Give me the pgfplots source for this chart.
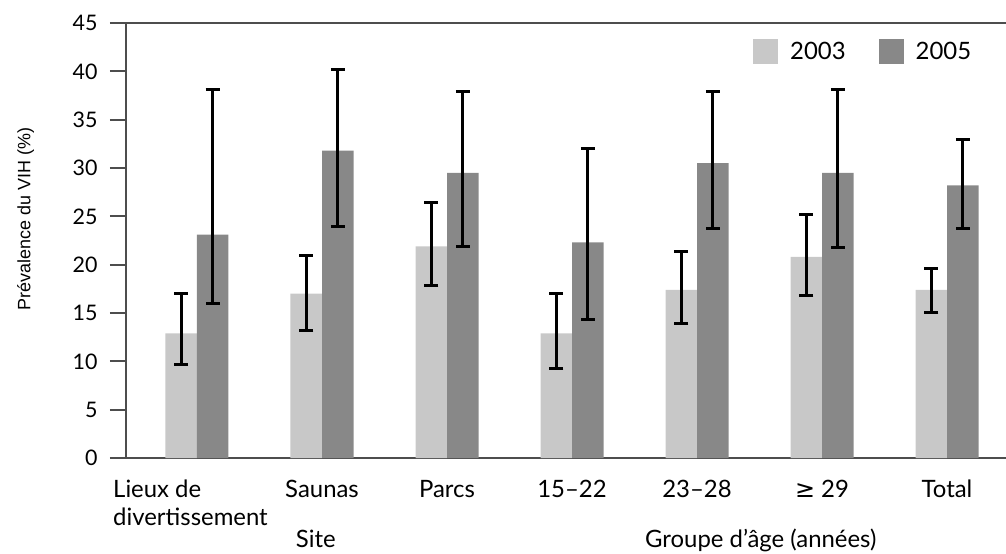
\documentclass[border=0pt]{standalone}
\usepackage{pgfplots}
\usepackage{pgfplotstable}
\pgfplotsset{compat=1.18}
\usepackage{fontspec}
\setmainfont{Lato}
\newfontfamily\ylfont{Liberation Sans}
\newfontfamily\symfont{DejaVu Sans}
\definecolor{lightbar}{HTML}{C8C8C8}
\definecolor{darkbar}{HTML}{888888}
\definecolor{axisgray}{HTML}{4D4D4D}

\pgfplotstableread{
x y hi lo
0 12.9 17.0 9.7
1 17.0 20.9 13.2
2 21.9 26.4 17.8
3 12.9 17.0 9.3
4 17.4 21.4 13.9
5 20.8 25.2 16.8
6 17.4 19.6 15.0
}\lightdata

\pgfplotstableread{
x y hi lo
0 23.1 38.1 16.0
1 31.8 40.2 23.9
2 29.5 37.9 21.9
3 22.3 32.0 14.3
4 30.5 37.9 23.7
5 29.5 38.1 21.8
6 28.2 32.9 23.7
}\darkdata

\begin{document}
\begin{tikzpicture}
\path[use as bounding box] (-126bp,-96bp) rectangle (880bp,458bp);
\begin{axis}[
  at={(0,0)}, anchor=south west,
  scale only axis, width=880bp, height=435bp,
  xmin=-0.568, xmax=6.472, ymin=0, ymax=45,
  clip=false,
  axis x line=box, axis y line=left,
  axis line style={-, draw=axisgray, line width=2bp},
  xtick={0,...,6},
  xticklabels={{\begin{tabular}[t]{@{}l@{}}Lieux de\\divertissement\end{tabular}\hspace*{13bp}},Saunas,Parcs,15–22,23–28,{{\symfont ≥} 29},Total},
  xticklabel style={font=\fontsize{24}{29}\selectfont, anchor=base, yshift=-23bp},
  major x tick style={draw=none},
  ytick={0,5,...,45},
  ytick pos=left,
  tick align=outside,
  major tick length=16bp,
  major y tick style={draw=axisgray, line width=2bp},
  yticklabel style={font=\fontsize{21.5}{25}\selectfont, /pgf/number format/assume math mode=true, xshift=-9bp},
  ylabel={Prévalence du VIH (\%)},
  ylabel style={font=\ylfont\fontsize{18}{21}\selectfont, at={(axis description cs:-0.114,0.549)}, anchor=center},
  ybar=0pt, bar width=31.5bp,
  legend columns=2,
  legend style={draw=none, fill=none, at={(axis description cs:0.7125,0.963)}, anchor=north west, font=\fontsize{24}{29}\selectfont, inner sep=0pt,
    /tikz/every odd column/.append style={column sep=10bp},
    /tikz/every even column/.append style={column sep=31bp}},
  legend image code/.code={\fill[#1] (0bp,-12.5bp) rectangle (25bp,12.5bp);},
]
\addplot[fill=lightbar, draw=none, error bars/.cd, y dir=both, y explicit,
  error bar style={black, line width=3bp},
  error mark options={black, line width=3bp, mark size=7bp, rotate=90}]
  table[x=x, y=y, y error plus expr=\thisrow{hi}-\thisrow{y}, y error minus expr=\thisrow{y}-\thisrow{lo}] {\lightdata};
\addplot[fill=darkbar, draw=none, error bars/.cd, y dir=both, y explicit,
  error bar style={black, line width=3bp},
  error mark options={black, line width=3bp, mark size=7bp, rotate=90}]
  table[x=x, y=y, y error plus expr=\thisrow{hi}-\thisrow{y}, y error minus expr=\thisrow{y}-\thisrow{lo}] {\darkdata};
\legend{2003,2005}
\node[font=\fontsize{24}{29}\selectfont, anchor=base] at (axis cs:0.95,0) [yshift=-89bp] {Site};
\node[font=\fontsize{24}{29}\selectfont, anchor=base] at (axis cs:4.51,0) [yshift=-89bp] {Groupe d’âge (années)};
\end{axis}
\end{tikzpicture}
\end{document}
